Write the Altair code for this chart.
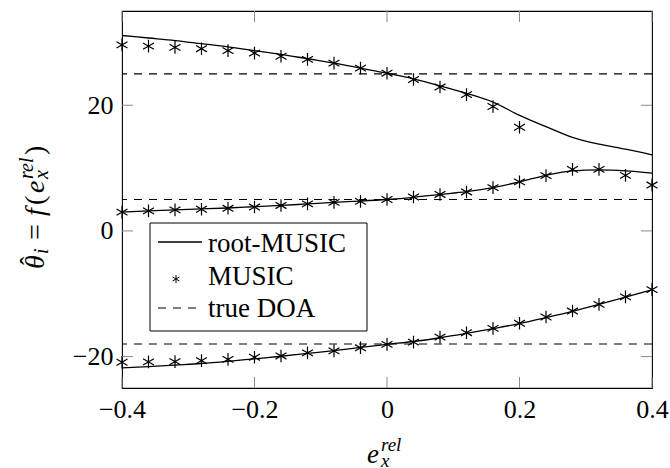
import altair as alt
import pandas as pd

# ---------------- data ----------------
x_grid = [-0.4, -0.36, -0.32, -0.28, -0.24, -0.2, -0.16, -0.12, -0.08, -0.04,
          0.0, 0.04, 0.08, 0.12, 0.16, 0.2, 0.24, 0.28, 0.32, 0.36, 0.4]

root_upper = [31.1, 30.7, 30.3, 29.8, 29.3, 28.7, 28.1, 27.4, 26.7, 25.9,
              25.1, 24.2, 23.1, 21.9, 20.5, 18.4, 16.6, 14.9, 13.8, 13.0, 12.1]
root_middle = [3.0, 3.2, 3.35, 3.5, 3.65, 3.85, 4.05, 4.3, 4.55, 4.75,
               5.0, 5.35, 5.8, 6.25, 6.9, 7.8, 8.85, 9.55, 9.7, 9.55, 9.2]
root_lower = [-21.8, -21.6, -21.35, -21.1, -20.75, -20.35, -19.95, -19.5, -19.05, -18.55,
              -18.05, -17.6, -17.0, -16.3, -15.55, -14.75, -13.8, -12.8, -11.7, -10.55, -9.35]

music_upper = [29.6, 29.4, 29.2, 29.0, 28.7, 28.3, 27.8, 27.3, 26.7, 25.9,
               25.1, 24.1, 22.9, 21.7, 19.8, 16.5]
music_middle = [3.0, 3.2, 3.35, 3.45, 3.6, 3.8, 4.05, 4.3, 4.55, 4.7,
                5.0, 5.4, 5.8, 6.2, 6.9, 7.8, 8.8, 9.8, 9.8, 8.85, 7.3]
music_lower = [-20.9, -20.85, -20.8, -20.65, -20.45, -20.1, -19.9, -19.4, -19.1, -18.6,
               -18.05, -17.7, -16.9, -16.2, -15.5, -14.7, -13.7, -12.75, -11.7, -10.5, -9.35]

true_doa = [25, 5, -18]

x_ticks = [-0.4, -0.2, 0.0, 0.2, 0.4]
y_ticks = [-20, 0, 20]
legend_labels = ["root-MUSIC", "MUSIC", "true DOA"]

# ---------------- tables ----------------
line_rows = []
for name, vals in [("upper", root_upper), ("middle", root_middle), ("lower", root_lower)]:
    for xv, yv in zip(x_grid, vals):
        line_rows.append({"x": xv, "y": yv, "curve": name})
line_df = pd.DataFrame(line_rows)

star_rows = []
for name, vals in [("upper", music_upper), ("middle", music_middle), ("lower", music_lower)]:
    for xv, yv in zip(x_grid, vals):
        star_rows.append({"x": xv, "y": yv, "curve": name})
star_df = pd.DataFrame(star_rows)

doa_df = pd.DataFrame({"y": true_doa})
xt_df = pd.DataFrame({"t": x_ticks})
yt_df = pd.DataFrame({"t": y_ticks})
one = pd.DataFrame({"a": [0]})

# ---------------- style ----------------
W, H = 530, 377
FONT = "Liberation Serif"
FS = 27
STAR = "M0,-1L0,1M-0.866,-0.5L0.866,0.5M-0.866,0.5L0.866,-0.5"
DASH = [8, 7]
TICK_LEN = 11

xs = alt.Scale(domain=[-0.4, 0.4], nice=False, zero=False)
ys = alt.Scale(domain=[-25, 35], nice=False, zero=False)

label_expr = "datum.value == 0 ? '0' : replace(format(datum.value, '.1~f'), '-', '\u2212')"
xaxis = alt.Axis(values=x_ticks, ticks=False, domain=False, grid=False, title=None,
                 labelFont=FONT, labelFontSize=26, labelColor="black", labelPadding=8,
                 labelFlush=False, labelOverlap=False, labelExpr=label_expr)
yaxis = alt.Axis(values=y_ticks, ticks=False, domain=False, grid=False, title=None,
                 labelFont=FONT, labelFontSize=26, labelColor="black", labelPadding=9,
                 labelOverlap=False, labelExpr=label_expr)

X = lambda f: alt.X(f, scale=xs, axis=xaxis)
Y = lambda f: alt.Y(f, scale=ys, axis=yaxis)

doa = alt.Chart(doa_df).mark_rule(color="black", strokeWidth=1.1, strokeDash=DASH).encode(
    y=Y("y:Q"))

lines = alt.Chart(line_df).mark_line(color="black", strokeWidth=1.3, interpolate="monotone").encode(
    x=X("x:Q"), y=Y("y:Q"), detail="curve:N")

stars = alt.Chart(star_df).mark_point(shape=STAR, filled=False, stroke="black",
                                      strokeWidth=1.2, size=160, opacity=1).encode(
    x=X("x:Q"), y=Y("y:Q"))

tick_style = dict(color="#8a8a8a", strokeWidth=1)
xt_bot = alt.Chart(xt_df).mark_rule(**tick_style).encode(
    x=X("t:Q"), y=alt.value(H), y2=alt.value(H - TICK_LEN))
xt_top = alt.Chart(xt_df).mark_rule(**tick_style).encode(
    x=X("t:Q"), y=alt.value(0), y2=alt.value(TICK_LEN))
yt_left = alt.Chart(yt_df).mark_rule(**tick_style).encode(
    y=Y("t:Q"), x=alt.value(0), x2=alt.value(TICK_LEN))
yt_right = alt.Chart(yt_df).mark_rule(**tick_style).encode(
    y=Y("t:Q"), x=alt.value(W - TICK_LEN), x2=alt.value(W))

# ---------------- legend ----------------
LX0, LX1, LY0, LY1 = 28, 245, 212, 320
leg_box = alt.Chart(one).mark_rect(fill="white", stroke="black", strokeWidth=1).encode(
    x=alt.value(LX0), x2=alt.value(LX1), y=alt.value(LY0), y2=alt.value(LY1))
leg_line = alt.Chart(one).mark_rule(color="black", strokeWidth=1.3).encode(
    x=alt.value(36), x2=alt.value(80), y=alt.value(231), y2=alt.value(231))
leg_star = alt.Chart(one).mark_point(shape=STAR, filled=False, stroke="black",
                                     strokeWidth=1, size=64, opacity=1).encode(
    x=alt.value(54), y=alt.value(268))
leg_dash = alt.Chart(one).mark_rule(color="black", strokeWidth=1.1, strokeDash=DASH).encode(
    x=alt.value(36), x2=alt.value(80), y=alt.value(297), y2=alt.value(297))
leg_texts = []
for lab, by in zip(legend_labels, [241, 274, 306]):
    leg_texts.append(alt.Chart(one).mark_text(text=lab, font=FONT, fontSize=FS, align="left",
                                              baseline="alphabetic", color="black").encode(
        x=alt.value(86), y=alt.value(by)))

# ---------------- axis titles (math) ----------------
def txt(s, x, y, size=FS, italic=True, angle=0):
    kw = dict(text=s, font=FONT, fontSize=size, align="left", baseline="alphabetic", color="black")
    if italic:
        kw["fontStyle"] = "italic"
    if angle:
        kw["angle"] = angle
    return alt.Chart(one).mark_text(**kw).encode(x=alt.value(x), y=alt.value(y))

SUB = 20
YF = 28
xtitle = [
    txt("e", 245, 452),
    txt("rel", 259, 440, SUB - 1),
    txt("x", 259, 456, SUB - 1),
]
BX = -78
ytitle = [
    txt("\u03b8", BX, 258, YF, angle=270),
    txt("\u02c6", BX - 6, 254, 25, italic=False, angle=270),
    txt("i", BX + 4, 243, SUB, angle=270),
    txt("=", BX, 229, YF, italic=False, angle=270),
    txt("f", BX, 205, YF, angle=270),
    txt("(", BX, 194, YF, italic=False, angle=270),
    txt("e", BX, 182, YF, angle=270),
    txt("rel", BX - 11, 168, SUB, angle=270),
    txt("x", BX + 4, 168, SUB, angle=270),
    txt(")", BX, 144, YF, italic=False, angle=270),
]

chart = alt.layer(
    doa, lines, stars, xt_bot, xt_top, yt_left, yt_right,
    leg_box, leg_line, leg_star, leg_dash, *leg_texts, *xtitle, *ytitle
).properties(
    width=W, height=H,
    autosize=alt.AutoSizeParams(type="none"),
    padding={"left": 122, "top": 11, "right": 18, "bottom": 80},
    background="white",
).configure_view(stroke="black", strokeWidth=1.1
).configure_axis(labelFont=FONT, labelFontSize=26, labelColor="black")

chart.save("out.html", embed_options={"renderer": "svg", "actions": False})
